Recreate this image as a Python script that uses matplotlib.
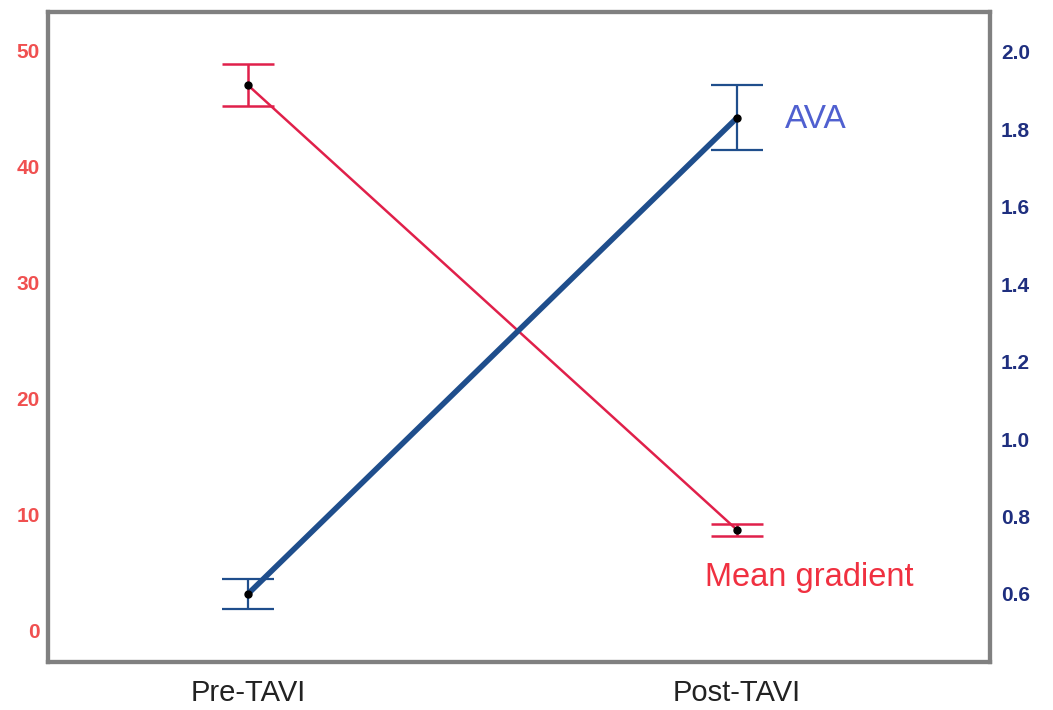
import numpy as np
import matplotlib.pyplot as plt

plt.rcParams['font.family'] = ['Liberation Sans', 'DejaVu Sans']

# Pre/post values
stages = ["Pre-TAVI", "Post-TAVI"]
gradient_mean = [47.0, 8.7]      # mmHg
gradient_err = [1.8, 0.5]
ava_mean = [0.60, 1.83]          # cm2
ava_err = [0.038, 0.084]

red = "#E0204A"
blue = "#1F4E8C"
x = np.arange(len(stages))

fig = plt.figure(figsize=(10.53, 7.10), dpi=100)
ax = fig.add_axes([0.0456, 0.0676, 0.8945, 0.9154])
ax2 = ax.twinx()

ax.errorbar(x, gradient_mean, yerr=gradient_err, color=red, lw=1.8,
            capsize=19, capthick=1.8, elinewidth=1.8, zorder=2)
ax.plot(x, gradient_mean, "o", color="black", ms=5, zorder=5)

ax2.errorbar(x, ava_mean, yerr=ava_err, color=blue, lw=1.6,
             capsize=19, capthick=1.6, elinewidth=1.6, zorder=2)
ax2.plot(x, ava_mean, color=blue, lw=4, zorder=3, solid_capstyle="round")
ax2.plot(x, ava_mean, "o", color="black", ms=5, zorder=5)

ax.set_xlim(-0.409, 1.517)
ax.set_ylim(-2.67, 53.3)
ax2.set_ylim(0.424, 2.103)

ax.set_yticks([0, 10, 20, 30, 40, 50])
ax2.set_yticks([0.6, 0.8, 1.0, 1.2, 1.4, 1.6, 1.8, 2.0])
ax2.set_yticklabels([f"{v:.1f}" for v in ax2.get_yticks()])
ax.set_xticks(x)
ax.set_xticklabels(stages, fontsize=21, color="#222222")

ax.tick_params(axis="y", length=0, pad=6, labelsize=15, labelcolor="#F05050")
ax2.tick_params(axis="y", length=0, pad=8, labelsize=15, labelcolor="#1F2F7F")
ax.tick_params(axis="x", length=0, pad=12)
for lab in ax.get_yticklabels() + ax2.get_yticklabels():
    lab.set_fontweight("bold")

for a in (ax, ax2):
    for s in a.spines.values():
        s.set_color("#808080")
        s.set_linewidth(3)

ax2.text(1.098, ava_mean[1] - 0.005, "AVA", color="#5060D0", fontsize=24,
         va="center", ha="left")
ax.text(0.935, 4.6, "Mean gradient", color="#F03040", fontsize=23.5,
        va="center", ha="left")

fig.savefig("out.png", dpi=100)
